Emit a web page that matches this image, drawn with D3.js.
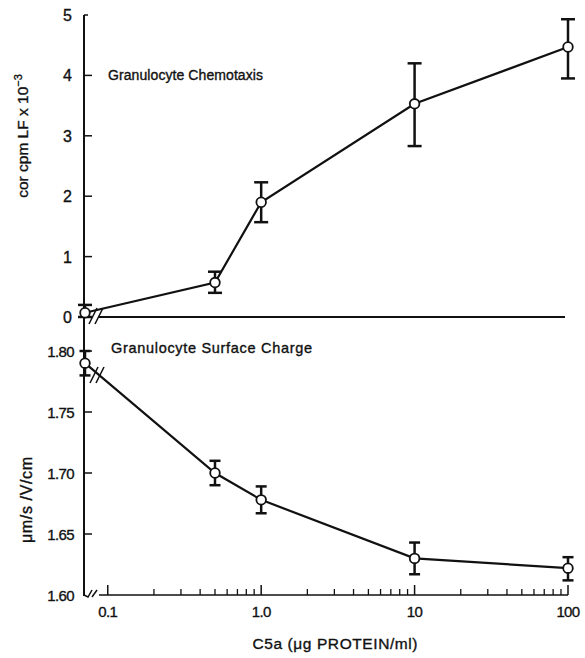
<!DOCTYPE html>
<html>
<head>
<meta charset="utf-8">
<script src="https://cdn.jsdelivr.net/npm/d3@7"></script>
<style>
  body { margin: 0; background: #fff; }
  svg { display: block; }
  text { font-family: "Liberation Sans", Arial, sans-serif; fill: #111; stroke: #111; stroke-width: 0.35; }
</style>
</head>
<body>
<div id="chart"></div>
<script>
// concentrations (ug protein/ml); null = control (no C5a)
const doses = [null, 0.5, 1.0, 10, 100];

// granulocyte chemotaxis, cor cpm LF x 10^-3
const chemoMean = [0.07, 0.57, 1.90, 3.53, 4.47];
const chemoLow  = [0.00, 0.40, 1.57, 2.83, 3.95];
const chemoHigh = [0.20, 0.75, 2.23, 4.20, 4.93];

// granulocyte surface charge, um/s/V/cm
const chargeMean = [1.790, 1.700, 1.678, 1.630, 1.622];
const chargeLow  = [1.780, 1.690, 1.667, 1.617, 1.612];
const chargeHigh = [1.800, 1.710, 1.689, 1.643, 1.631];

const chemoTicks = [0, 1, 2, 3, 4, 5];
const chargeTicks = [1.60, 1.65, 1.70, 1.75, 1.80];
const xMajor = [0.1, 1, 10, 100];
const xMajorLabels = ['0.1', '1.0', '10', '100'];

const width = 585, height = 658;
const axisX = 84;

const svg = d3.select('#chart').append('svg')
  .attr('width', width).attr('height', height);

const x = d3.scaleLog().domain([0.07, 100]).range([axisX, 568]);
const xPos = d => d === null ? axisX + 1 : x(d);

const yTop = d3.scaleLinear().domain([0, 5]).range([317, 15]);
const yBot = d3.scaleLinear().domain([1.60, 1.80]).range([595, 351]);

const ink = '#111';

// left axis (shared)
svg.append('line')
  .attr('x1', axisX).attr('x2', axisX)
  .attr('y1', yTop(5)).attr('y2', yBot(1.60) + 1)
  .attr('stroke', ink).attr('stroke-width', 2);

// top panel ticks
const gTop = svg.append('g');
gTop.selectAll('line.tick').data(chemoTicks.slice(1)).join('line')
  .attr('class', 'tick')
  .attr('x1', axisX).attr('x2', d => d === 5 ? axisX + 4 : axisX + 8)
  .attr('y1', d => yTop(d)).attr('y2', d => yTop(d))
  .attr('stroke', ink).attr('stroke-width', 1.5);
gTop.selectAll('text.tl').data(chemoTicks).join('text')
  .attr('class', 'tl')
  .attr('x', axisX - 12).attr('y', d => yTop(d) + 6)
  .attr('text-anchor', 'end').attr('font-size', 16)
  .text(d => d);

// top baseline
svg.append('line')
  .attr('x1', axisX + 14).attr('x2', 565)
  .attr('y1', yTop(0)).attr('y2', yTop(0))
  .attr('stroke', ink).attr('stroke-width', 2);
svg.append('line')
  .attr('x1', axisX).attr('x2', axisX + 5)
  .attr('y1', yTop(0)).attr('y2', yTop(0))
  .attr('stroke', ink).attr('stroke-width', 2);

// bottom panel ticks
const gBot = svg.append('g');
gBot.selectAll('line.tick').data(chargeTicks.slice(1)).join('line')
  .attr('class', 'tick')
  .attr('x1', axisX).attr('x2', axisX + 8)
  .attr('y1', d => yBot(d)).attr('y2', d => yBot(d))
  .attr('stroke', ink).attr('stroke-width', 1.5);
gBot.selectAll('text.tl').data(chargeTicks).join('text')
  .attr('class', 'tl')
  .attr('x', axisX - 10).attr('y', d => yBot(d) + 6)
  .attr('text-anchor', 'end').attr('font-size', 15)
  .attr('letter-spacing', -0.6)
  .text(d => d.toFixed(2));

// bottom x-axis
const xAxisY = yBot(1.60);
svg.append('line')
  .attr('x1', 99).attr('x2', x(100))
  .attr('y1', xAxisY).attr('y2', xAxisY)
  .attr('stroke', ink).attr('stroke-width', 1.5);
svg.append('path')
  .attr('d', `M${axisX},${xAxisY} L${axisX + 4},${xAxisY + 2} L${axisX + 8},${xAxisY - 5}`)
  .attr('fill', 'none').attr('stroke', ink).attr('stroke-width', 1.5);
svg.append('line')
  .attr('x1', 92).attr('x2', 97)
  .attr('y1', xAxisY + 2).attr('y2', xAxisY - 5)
  .attr('stroke', ink).attr('stroke-width', 1.5);

const minor = [];
[0.1, 1, 10].forEach(dec => {
  for (let k = 2; k <= 9; k++) minor.push(dec * k);
});
svg.selectAll('line.minor').data(minor).join('line')
  .attr('class', 'minor')
  .attr('x1', d => x(d)).attr('x2', d => x(d))
  .attr('y1', xAxisY).attr('y2', xAxisY - 6)
  .attr('stroke', ink).attr('stroke-width', 1.3);
svg.selectAll('line.major').data(xMajor).join('line')
  .attr('class', 'major')
  .attr('x1', d => x(d)).attr('x2', d => x(d))
  .attr('y1', xAxisY).attr('y2', xAxisY - 10)
  .attr('stroke', ink).attr('stroke-width', 1.5);
svg.selectAll('text.xl').data(xMajor).join('text')
  .attr('class', 'xl')
  .attr('x', d => x(d)).attr('y', xAxisY + 22)
  .attr('text-anchor', 'middle').attr('font-size', 15)
  .attr('letter-spacing', -0.6)
  .text((d, i) => xMajorLabels[i]);

// axis titles
svg.append('text')
  .attr('transform', `translate(28,136) rotate(-90)`)
  .attr('text-anchor', 'middle').attr('font-size', 15.5)
  .text('cor cpm LF x 10')
  .append('tspan').attr('dy', -6).attr('font-size', 11).text('−3');
svg.append('text')
  .attr('transform', `translate(32,500) rotate(-90)`)
  .attr('text-anchor', 'middle').attr('font-size', 16)
  .attr('textLength', 86)
  .text('μm/s /V/cm');
svg.append('text')
  .attr('x', 335).attr('y', 649)
  .attr('text-anchor', 'middle').attr('font-size', 15.5)
  .attr('textLength', 165)
  .text('C5a (μg PROTEIN/ml)');

// panel labels
svg.append('text').attr('x', 108).attr('y', 80)
  .attr('font-size', 14).attr('textLength', 155)
  .text('Granulocyte Chemotaxis');
svg.append('text').attr('x', 111).attr('y', 353)
  .attr('font-size', 14.5).attr('textLength', 201)
  .text('Granulocyte Surface Charge');

function drawSeries(yScale, mean, low, high, cap) {
  const g = svg.append('g');
  const pts = doses.map((d, i) => ({ x: xPos(d), m: mean[i], lo: low[i], hi: high[i] }));
  g.append('path')
    .datum(pts)
    .attr('d', d3.line().x(p => p.x).y(p => yScale(p.m)))
    .attr('fill', 'none').attr('stroke', ink).attr('stroke-width', 2.2);
  const eb = g.selectAll('g.eb').data(pts).join('g').attr('class', 'eb');
  eb.append('line')
    .attr('x1', p => p.x).attr('x2', p => p.x)
    .attr('y1', p => yScale(p.lo)).attr('y2', p => yScale(p.hi))
    .attr('stroke', ink).attr('stroke-width', 2.5);
  ['lo', 'hi'].forEach(k => {
    eb.append('line')
      .attr('x1', p => p.x - cap).attr('x2', p => p.x + cap)
      .attr('y1', p => yScale(p[k])).attr('y2', p => yScale(p[k]))
      .attr('stroke', ink).attr('stroke-width', 2.5);
  });
  eb.append('circle')
    .attr('cx', p => p.x).attr('cy', p => yScale(p.m)).attr('r', 4.8)
    .attr('fill', '#fff').attr('stroke', ink).attr('stroke-width', 1.8);
  return pts;
}

drawSeries(yTop, chemoMean, chemoLow, chemoHigh, 7);
drawSeries(yBot, chargeMean, chargeLow, chargeHigh, 5.5);

// break marks
function breakMarks(cx, cy) {
  [-3, 3].forEach(dx => {
    svg.append('line')
      .attr('x1', cx + dx - 4).attr('y1', cy + 8)
      .attr('x2', cx + dx + 4).attr('y2', cy - 8)
      .attr('stroke', ink).attr('stroke-width', 1.6);
  });
}
breakMarks(96, yTop(0) - 1);
breakMarks(97, 375);
</script>
</body>
</html>
